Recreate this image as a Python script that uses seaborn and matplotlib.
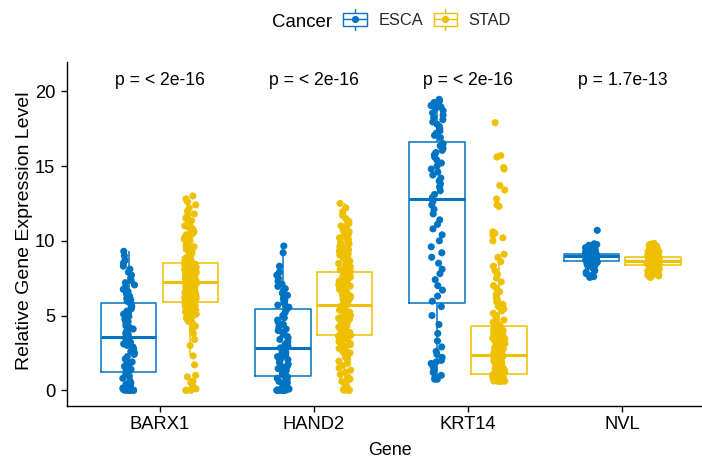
import numpy as np
import pandas as pd
import matplotlib
matplotlib.use("Agg")
import matplotlib.pyplot as plt
from matplotlib.lines import Line2D
from matplotlib.patches import Rectangle
from matplotlib.legend_handler import HandlerBase
import seaborn as sns

# ---- data -------------------------------------------------------------
genes = ["BARX1", "HAND2", "KRT14", "NVL"]
cancers = ["ESCA", "STAD"]
p_labels = ["p = < 2e-16", "p = < 2e-16", "p = < 2e-16", "p = 1.7e-13"]

barx1_esca = [0, 0, 0, 0, 0, 0, 0.02, 0.05, 0.08, 0.1, 0.15, 0.2, 0.3, 0.4, 0.5, 0.65, 0.8, 0.95, 1.1, 1.2,
              1.27, 1.4, 1.5, 1.6, 1.75, 1.9, 2.0, 2.1, 2.25, 2.4, 2.5, 2.6, 2.75, 2.9, 3.0, 3.1, 3.2, 3.3, 3.4, 3.5,
              3.6, 3.7, 3.8, 3.9, 4.0, 4.1, 4.2, 4.3, 4.45, 4.6, 4.7, 4.8, 4.95, 5.1, 5.2, 5.3, 5.45, 5.6, 5.7, 5.8,
              5.95, 6.05, 6.15, 6.3, 6.45, 6.6, 6.75, 6.9, 7.05, 7.2, 7.35, 7.5, 7.7, 7.9, 8.1, 8.3, 8.5, 8.7, 9.0, 9.3]
barx1_stad = [0, 0, 0, 0.1, 0.3, 0.5, 0.6, 0.9, 1.0, 1.7, 2.3, 3.0, 3.4, 3.8, 4.1, 4.3, 4.5, 4.6, 4.7, 4.8,
              4.9, 5.0, 5.05, 5.1, 5.15, 5.2, 5.25, 5.3, 5.35, 5.4, 5.45, 5.5, 5.55, 5.6, 5.65, 5.7, 5.75, 5.8, 5.85, 5.88,
              5.92, 5.96, 6.0, 6.03, 6.06, 6.1, 6.13, 6.16, 6.2, 6.23, 6.26, 6.3, 6.33, 6.36, 6.4, 6.43, 6.46, 6.5, 6.53, 6.56,
              6.6, 6.63, 6.66, 6.7, 6.73, 6.76, 6.8, 6.83, 6.86, 6.9, 6.93, 6.96, 7.0, 7.03, 7.06, 7.1, 7.13, 7.16, 7.2, 7.23,
              7.27, 7.3, 7.33, 7.36, 7.39, 7.42, 7.45, 7.48, 7.51, 7.54, 7.57, 7.6, 7.63, 7.66, 7.69, 7.72, 7.75, 7.78, 7.81, 7.84,
              7.87, 7.9, 7.93, 7.96, 7.99, 8.02, 8.05, 8.08, 8.11, 8.14, 8.17, 8.2, 8.23, 8.26, 8.29, 8.32, 8.36, 8.4, 8.44, 8.48,
              8.56, 8.64, 8.72, 8.8, 8.88, 8.96, 9.04, 9.12, 9.2, 9.28, 9.36, 9.44, 9.52, 9.6, 9.7, 9.8, 9.9, 10.0, 10.1, 10.2,
              10.3, 10.4, 10.5, 10.6, 10.7, 10.8, 10.9, 11.0, 11.1, 11.2, 11.35, 11.5, 11.65, 11.8, 12.0, 12.2, 12.4, 12.6, 12.8, 13.0]
hand2_esca = [0, 0, 0, 0, 0, 0, 0, 0.02, 0.05, 0.08, 0.12, 0.18, 0.25, 0.33, 0.42, 0.5, 0.6, 0.7, 0.8, 0.9,
              0.96, 1.05, 1.15, 1.25, 1.35, 1.45, 1.55, 1.65, 1.75, 1.85, 1.95, 2.05, 2.15, 2.25, 2.35, 2.45, 2.55, 2.63, 2.7, 2.78,
              2.84, 2.95, 3.05, 3.15, 3.25, 3.4, 3.5, 3.6, 3.75, 3.9, 4.0, 4.1, 4.25, 4.4, 4.55, 4.7, 4.85, 5.0, 5.2, 5.4,
              5.56, 5.7, 5.8, 5.9, 6.0, 6.1, 6.2, 6.35, 6.5, 6.65, 6.8, 6.95, 7.1, 7.3, 7.5, 7.7, 7.9, 8.3, 9.2, 9.65]
hand2_stad = [0, 0, 0, 0.05, 0.15, 0.3, 0.45, 0.6, 0.75, 0.9, 1.05, 1.2, 1.35, 1.5, 1.65, 1.8, 1.95, 2.1, 2.2, 2.3,
              2.4, 2.5, 2.6, 2.7, 2.8, 2.9, 2.98, 3.06, 3.14, 3.2, 3.26, 3.32, 3.38, 3.43, 3.48, 3.53, 3.57, 3.61, 3.64, 3.67,
              3.72, 3.77, 3.82, 3.87, 3.92, 3.97, 4.02, 4.07, 4.12, 4.17, 4.22, 4.27, 4.32, 4.37, 4.42, 4.47, 4.52, 4.57, 4.62, 4.67,
              4.72, 4.77, 4.82, 4.87, 4.92, 4.97, 5.02, 5.07, 5.12, 5.17, 5.22, 5.27, 5.32, 5.37, 5.42, 5.47, 5.52, 5.57, 5.63, 5.7,
              5.76, 5.82, 5.87, 5.93, 5.98, 6.04, 6.09, 6.15, 6.2, 6.26, 6.31, 6.37, 6.42, 6.48, 6.53, 6.59, 6.64, 6.7, 6.75, 6.81,
              6.86, 6.92, 6.97, 7.03, 7.08, 7.14, 7.19, 7.25, 7.3, 7.36, 7.41, 7.47, 7.52, 7.58, 7.63, 7.69, 7.74, 7.8, 7.86, 7.92,
              8.0, 8.08, 8.16, 8.24, 8.32, 8.4, 8.48, 8.56, 8.64, 8.72, 8.8, 8.88, 8.96, 9.04, 9.12, 9.2, 9.3, 9.4, 9.5, 9.6,
              9.7, 9.8, 9.9, 10.0, 10.1, 10.2, 10.3, 10.4, 10.5, 10.6, 10.7, 10.85, 11.0, 11.15, 11.3, 11.5, 11.7, 11.95, 12.2, 12.5]
krt14_esca = [0.74, 0.74, 0.8, 0.9, 1.0, 1.2, 1.4, 1.6, 1.8, 1.9, 2.0, 2.2, 2.4, 2.6, 2.9, 3.3, 3.8, 4.4, 5.0, 5.6,
              5.96, 6.3, 6.7, 7.0, 7.4, 7.8, 8.1, 8.5, 8.9, 9.2, 9.6, 10.0, 10.4, 10.8, 11.1, 11.4, 11.8, 12.1, 12.4, 12.65,
              12.9, 13.1, 13.35, 13.6, 13.8, 14.0, 14.2, 14.4, 14.6, 14.8, 15.0, 15.2, 15.4, 15.6, 15.75, 15.9, 16.05, 16.2, 16.35, 16.5,
              16.9, 17.05, 17.2, 17.35, 17.5, 17.65, 17.8, 17.95, 18.1, 18.25, 18.4, 18.55, 18.7, 18.85, 18.95, 19.05, 19.15, 19.25, 19.35, 19.46]
krt14_stad = [0.6, 0.6, 0.61, 0.62, 0.63, 0.64, 0.65, 0.66, 0.67, 0.68, 0.69, 0.7, 0.72, 0.74, 0.76, 0.78, 0.8, 0.82, 0.84, 0.86,
              0.88, 0.9, 0.91, 0.92, 0.93, 0.94, 0.95, 0.96, 0.97, 0.98, 0.99, 1.0, 1.01, 1.02, 1.03, 1.04, 1.05, 1.055, 1.06, 1.065,
              1.09, 1.12, 1.15, 1.18, 1.21, 1.25, 1.28, 1.31, 1.34, 1.37, 1.41, 1.44, 1.47, 1.5, 1.53, 1.57, 1.6, 1.63, 1.66, 1.69,
              1.73, 1.76, 1.79, 1.82, 1.85, 1.89, 1.92, 1.95, 1.98, 2.01, 2.05, 2.08, 2.11, 2.14, 2.17, 2.21, 2.24, 2.27, 2.3, 2.34,
              2.38, 2.43, 2.48, 2.53, 2.58, 2.62, 2.67, 2.72, 2.77, 2.82, 2.87, 2.92, 2.97, 3.01, 3.06, 3.11, 3.16, 3.21, 3.26, 3.31,
              3.36, 3.4, 3.45, 3.5, 3.55, 3.6, 3.65, 3.7, 3.75, 3.79, 3.84, 3.89, 3.94, 3.99, 4.04, 4.09, 4.14, 4.19, 4.23, 4.27,
              4.4, 4.55, 4.7, 4.85, 5.0, 5.15, 5.3, 5.45, 5.6, 5.75, 5.9, 6.05, 6.2, 6.4, 6.6, 6.8, 7.0, 7.25, 7.5, 7.75,
              8.0, 8.3, 8.6, 8.9, 9.1, 10.0, 10.2, 10.4, 10.5, 10.6, 12.3, 12.4, 12.8, 13.4, 13.7, 14.8, 14.9, 15.6, 15.7, 17.9]
nvl_esca = [7.55, 7.6, 7.7, 7.8, 7.9, 8.0, 8.1, 8.2, 8.28, 8.35, 8.4, 8.45, 8.5, 8.53, 8.56, 8.58, 8.6, 8.62, 8.63, 8.64,
            8.68, 8.71, 8.74, 8.77, 8.8, 8.82, 8.84, 8.86, 8.88, 8.89, 8.9, 8.91, 8.92, 8.93, 8.94, 8.95, 8.96, 8.97, 8.975, 8.98,
            8.985, 8.99, 9.0, 9.01, 9.02, 9.03, 9.04, 9.05, 9.06, 9.07, 9.08, 9.09, 9.1, 9.105, 9.11, 9.115, 9.12, 9.125, 9.13, 9.135,
            9.16, 9.19, 9.22, 9.25, 9.28, 9.31, 9.34, 9.37, 9.4, 9.43, 9.46, 9.5, 9.54, 9.58, 9.62, 9.66, 9.7, 9.75, 9.8, 10.7]
nvl_stad = [7.55, 7.6, 7.65, 7.7, 7.74, 7.78, 7.82, 7.86, 7.9, 7.94, 7.98, 8.01, 8.04, 8.07, 8.1, 8.12, 8.14, 8.16, 8.18, 8.2,
            8.22, 8.24, 8.26, 8.27, 8.28, 8.29, 8.3, 8.31, 8.32, 8.33, 8.34, 8.35, 8.355, 8.36, 8.365, 8.37, 8.375, 8.38, 8.385, 8.39,
            8.405, 8.41, 8.42, 8.425, 8.43, 8.44, 8.445, 8.45, 8.46, 8.465, 8.47, 8.48, 8.485, 8.49, 8.5, 8.505, 8.51, 8.52, 8.525, 8.53,
            8.54, 8.545, 8.55, 8.56, 8.565, 8.57, 8.58, 8.585, 8.59, 8.6, 8.605, 8.61, 8.615, 8.62, 8.625, 8.63, 8.635, 8.64, 8.642, 8.645,
            8.655, 8.66, 8.67, 8.675, 8.68, 8.69, 8.695, 8.7, 8.71, 8.715, 8.72, 8.73, 8.735, 8.74, 8.75, 8.755, 8.76, 8.77, 8.775, 8.78,
            8.79, 8.795, 8.8, 8.81, 8.815, 8.82, 8.83, 8.835, 8.84, 8.85, 8.855, 8.86, 8.865, 8.87, 8.875, 8.88, 8.885, 8.89, 8.893, 8.896,
            8.91, 8.93, 8.95, 8.97, 8.99, 9.01, 9.03, 9.05, 9.07, 9.09, 9.11, 9.13, 9.15, 9.17, 9.19, 9.21, 9.23, 9.25, 9.27, 9.29,
            9.31, 9.33, 9.35, 9.37, 9.39, 9.41, 9.43, 9.45, 9.47, 9.49, 9.51, 9.53, 9.56, 9.59, 9.62, 9.65, 9.68, 9.72, 9.77, 9.83]

series = {
    ("BARX1", "ESCA"): barx1_esca, ("BARX1", "STAD"): barx1_stad,
    ("HAND2", "ESCA"): hand2_esca, ("HAND2", "STAD"): hand2_stad,
    ("KRT14", "ESCA"): krt14_esca, ("KRT14", "STAD"): krt14_stad,
    ("NVL", "ESCA"): nvl_esca, ("NVL", "STAD"): nvl_stad,
}
df = pd.DataFrame(
    [(g, c, v) for (g, c), vals in series.items() for v in vals],
    columns=["Gene", "Cancer", "Expression"],
)

palette = {"ESCA": "#0073C2", "STAD": "#EFC000"}
FONT = ["Liberation Sans", "DejaVu Sans"]

# ---- figure -----------------------------------------------------------
sns.set_theme(style="ticks")
plt.rcParams["font.family"] = FONT

W, H = 702, 458
fig = plt.figure(figsize=(W / 100, H / 100), dpi=100)
ax = fig.add_axes([67 / W, 1 - 406 / H, (714.8 - 67) / W, (406 - 61.7) / H])

sns.boxplot(
    data=df, x="Gene", y="Expression", hue="Cancer",
    order=genes, hue_order=cancers, palette=palette,
    fill=False, width=0.8, gap=0.1, showfliers=False, linewidth=1.1,
    medianprops=dict(linewidth=2.2), capprops=dict(linewidth=0),
    legend=False, ax=ax,
)
np.random.seed(3)
sns.stripplot(
    data=df, x="Gene", y="Expression", hue="Cancer",
    order=genes, hue_order=cancers, palette=palette,
    dodge=True, jitter=0.08, size=5.1, linewidth=0, alpha=1,
    legend=False, zorder=3, ax=ax,
)

for i, lab in enumerate(p_labels):
    ax.text(i, 20.39, lab, ha="center", va="baseline", fontsize=12.7,
            color="black")

ax.set_xlim(-0.6, 3.6)
ax.set_ylim(-1.05, 21.98)
ax.set_yticks([0, 5, 10, 15, 20])
ax.set_xlabel("")
ax.set_ylabel("")
for side in ["top", "right"]:
    ax.spines[side].set_visible(False)
for side in ["left", "bottom"]:
    ax.spines[side].set_color("black")
    ax.spines[side].set_linewidth(1.0)
ax.tick_params(axis="both", length=4, width=1.0, color="black",
               labelsize=13.2, labelcolor="black")
ax.tick_params(axis="y", pad=4.5)
ax.tick_params(axis="x", pad=3)

fig.text(390 / W, 1 - 455 / H, "Gene", ha="center", va="baseline",
         fontsize=12.9, color="black")
fig.text(25 / W, 1 - 230.4 / H, "Relative Gene Expression Level",
         rotation=90, ha="center", va="center", fontsize=14.0, color="black")


# ---- legend: box-style keys ------------------------------------------
class BoxKey(HandlerBase):
    def create_artists(self, legend, orig_handle, xdescent, ydescent,
                       width, height, fontsize, trans):
        c = orig_handle.get_color()
        cx = width / 2 - xdescent
        cy = height / 2 - ydescent
        bh = height * 0.85
        arts = [
            Line2D([cx, cx], [cy - height * 0.73, cy + height * 0.73],
                   color=c, lw=1.0, transform=trans),
            Rectangle((-xdescent, cy - bh / 2), width, bh, facecolor="white",
                      edgecolor=c, lw=1.0, transform=trans),
            Line2D([-xdescent, width - xdescent], [cy, cy], color=c, lw=1.0,
                   transform=trans),
            Line2D([cx], [cy], marker="o", markersize=4.2, color=c, lw=0,
                   transform=trans),
        ]
        return arts


handles = [Line2D([], [], color=palette[c]) for c in cancers]
fig.text(272 / W, 1 - 27.3 / H, "Cancer", ha="left", va="baseline",
         fontsize=13.4, color="black")
fig.legend(
    handles, cancers, handler_map={Line2D: BoxKey()},
    loc="center left", bbox_to_anchor=(343 / W, 1 - 20 / H),
    ncol=2, frameon=False, fontsize=11.8, borderpad=0, borderaxespad=0,
    handlelength=1.45, handleheight=1.0, handletextpad=0.7, columnspacing=0.65,
)

fig.savefig("out.png", dpi=100)
